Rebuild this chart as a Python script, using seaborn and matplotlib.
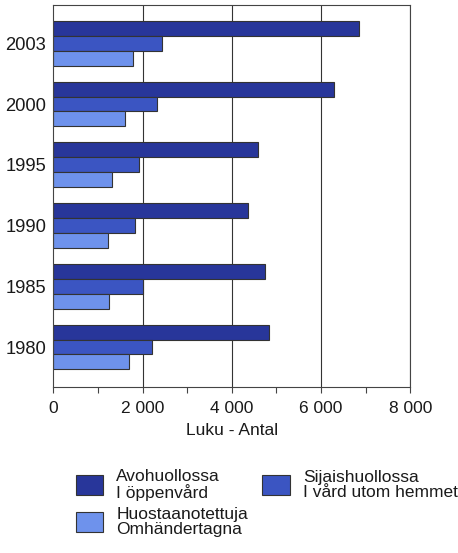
import matplotlib
matplotlib.use("Agg")
import matplotlib.pyplot as plt
import seaborn as sns
import pandas as pd
from matplotlib.ticker import MultipleLocator, FuncFormatter
from matplotlib.patches import Patch

years = ["2003", "2000", "1995", "1990", "1985", "1980"]
avohuollossa = [6850, 6290, 4580, 4370, 4750, 4840]
sijaishuollossa = [2430, 2320, 1920, 1840, 2010, 2210]
huostaanotettuja = [1785, 1600, 1310, 1220, 1240, 1690]
series_labels = ["Avohuollossa\nI öppenvård",
                 "Sijaishuollossa\nI vård utom hemmet",
                 "Huostaanotettuja\nOmhändertagna"]
x_ticks = [0, 2000, 4000, 6000, 8000]
x_label = "Luku - Antal"

colors = ["#28369a", "#3b55c2", "#6e92ec"]

rows = []
for lab, vals in zip(series_labels, [avohuollossa, sijaishuollossa, huostaanotettuja]):
    for y, v in zip(years, vals):
        rows.append({"year": y, "value": v, "series": lab})
df = pd.DataFrame(rows)

sns.set_theme(style="white")
plt.rcParams['font.family'] = ['Liberation Sans', 'DejaVu Sans']
plt.rcParams['text.color'] = '#1a1a1a'

fig = plt.figure(figsize=(4.58, 5.53), dpi=100)
ax = fig.add_axes([0.1164, 0.300, 0.7796, 0.691])

sns.barplot(data=df, y="year", x="value", hue="series", order=years,
            hue_order=series_labels, palette=colors, orient="h",
            width=0.74, edgecolor="#333333", linewidth=0.8, ax=ax,
            legend=False, errorbar=None, saturation=1)

ax.set_xlim(0, 8000)
ax.set_ylim(5.66, -0.63)
ax.set_xticks(x_ticks)
ax.xaxis.set_minor_locator(MultipleLocator(1000))
ax.xaxis.set_major_formatter(FuncFormatter(lambda v, p: f"{int(v):,}".replace(",", " ")))
ax.tick_params(axis="x", which="both", direction="out", length=4, width=0.8,
               color="#444444", labelsize=12.5, pad=6, bottom=True,
               labelcolor="#1a1a1a")
ax.tick_params(axis="y", length=0, labelsize=13.2, pad=5, labelcolor="#1a1a1a")
ax.set_ylabel("")
ax.set_xlabel(x_label, fontsize=12.5, labelpad=5, color="#1a1a1a")
for x in x_ticks[1:]:
    ax.axvline(x, color="#333333", lw=0.8, zorder=0)
for s in ax.spines.values():
    s.set_color("#444444")
    s.set_linewidth(0.8)
ax.set_axisbelow(True)

handles = [Patch(facecolor=c, edgecolor="#333333", linewidth=0.8) for c in colors]
order = [0, 2, 1]
leg = fig.legend([handles[i] for i in order], [series_labels[i] for i in order],
                 ncol=2, loc="upper left", bbox_to_anchor=(0.165, 0.152),
                 frameon=False, fontsize=12.5, handlelength=1.6, handleheight=1.4,
                 handletextpad=0.75, columnspacing=0.8, labelspacing=0.35,
                 borderaxespad=0, borderpad=0)
for t in leg.get_texts():
    t.set_multialignment("left")
    t.set_linespacing(1.0)

fig.savefig("out.png", dpi=100)
